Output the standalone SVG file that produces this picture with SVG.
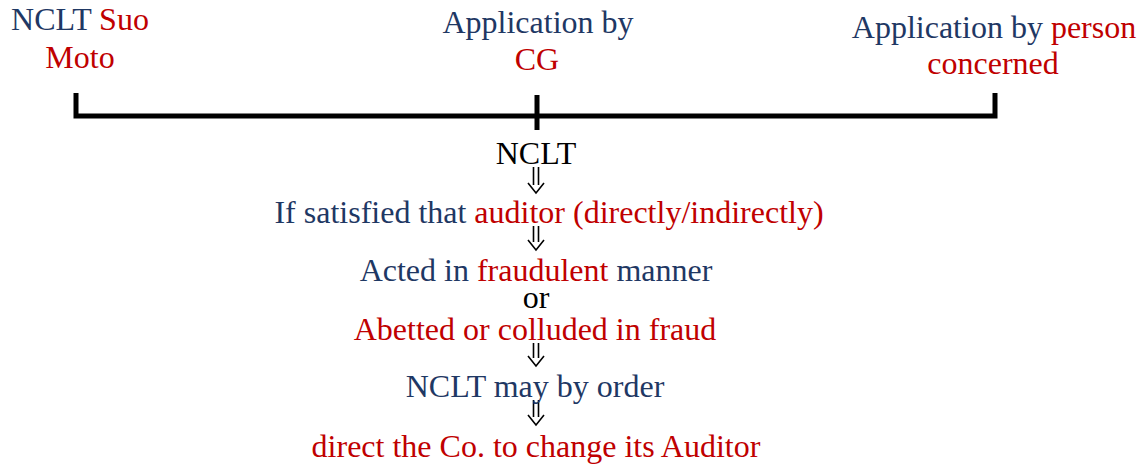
<svg xmlns="http://www.w3.org/2000/svg" width="1143" height="464" viewBox="0 0 1143 464">
<style>
text{font-family:"Liberation Serif","Times New Roman",serif;font-size:32px;text-anchor:middle}
.b{fill:#1F3864}.r{fill:#C00000}.k{fill:#000}
.br{stroke:#000;stroke-width:5;fill:none}
.ar{stroke:#000;stroke-width:1.6;fill:none;stroke-linejoin:miter}
</style>
<rect width="1143" height="464" fill="#fff"/>
<g id="connectors">
<path class="br" d="M76 93V116H995V93"/>
<path class="br" d="M537 95V130"/>
<path id="a1" class="ar" d="M533.5 167V185M538.5 167V185M528 183L536 193L544 183"/>
<path id="a2" class="ar" d="M533.5 226V242M538.5 226V242M528 240L536 250L544 240"/>
<path id="a3" class="ar" d="M533.5 343V358M538.5 343V358M528 356L536 366L544 356"/>
<path id="a4" class="ar" d="M533.5 400V417M538.5 400V417M528 415L536 425L544 415"/>
</g>
<g id="n-suomoto">
<text x="80" y="30"><tspan class="b">NCLT </tspan><tspan class="r">Suo</tspan></text>
<text x="80" y="68" class="r">Moto</text>
</g>
<g id="n-cg">
<text x="538" y="33" class="b">Application by</text>
<text x="537" y="70" class="r">CG</text>
</g>
<g id="n-person">
<text x="994" y="38"><tspan class="b">Application by </tspan><tspan class="r">person</tspan></text>
<text x="993" y="74" class="r">concerned</text>
</g>
<g id="n-nclt"><text x="536" y="164" class="k">NCLT</text></g>
<g id="n-satisfied"><text x="549" y="223"><tspan class="b">If satisfied that </tspan><tspan class="r">auditor (directly/indirectly)</tspan></text></g>
<g id="n-acted">
<text x="536" y="281"><tspan class="b">Acted in </tspan><tspan class="r">fraudulent</tspan><tspan class="b"> manner</tspan></text>
<text x="536" y="308" class="k">or</text>
<text x="535" y="340" class="r">Abetted or colluded in fraud</text>
</g>
<g id="n-order"><text x="535" y="397" class="b">NCLT may by order</text></g>
<g id="n-direct"><text x="536" y="457" class="r">direct the Co. to change its Auditor</text></g>
</svg>
